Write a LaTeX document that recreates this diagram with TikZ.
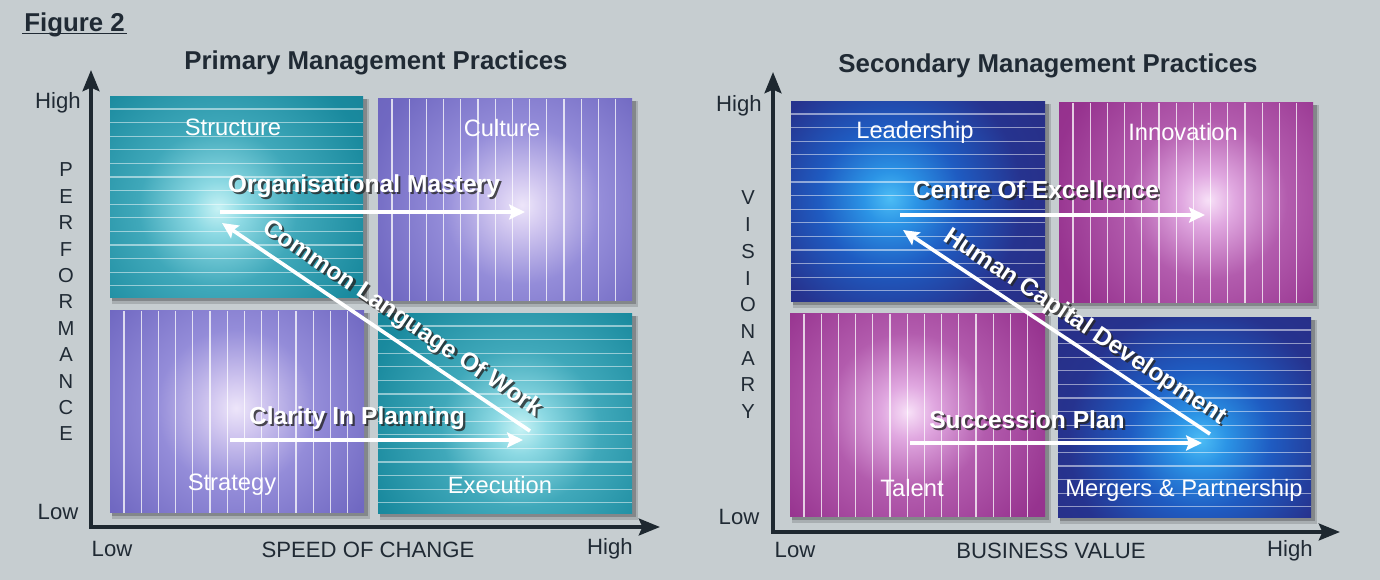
\documentclass[tikz,border=0pt]{standalone}
\usepackage{fontspec}
\setmainfont{Liberation Sans}
\usetikzlibrary{arrows.meta}

% palette
\definecolor{bggray}{RGB}{198,205,208}
\definecolor{axisdark}{RGB}{30,40,48}
\definecolor{titledark}{RGB}{32,42,52}
\definecolor{tealglow}{rgb}{0.06,0.44,0.52}
\definecolor{lilacglow}{rgb}{0.36,0.33,0.67}
\definecolor{navyglow}{rgb}{0.16,0.15,0.46}
\definecolor{plumglow}{rgb}{0.53,0.14,0.50}

% radial glows, one per quadrant family
\pgfdeclareradialshading{tealglow}{\pgfpoint{0bp}{0bp}}{%
  rgb(0bp)=(0.78,0.95,0.96); rgb(3bp)=(0.55,0.85,0.89); rgb(9bp)=(0.25,0.66,0.73);
  rgb(18bp)=(0.10,0.54,0.62); rgb(30bp)=(0.07,0.48,0.56); rgb(50bp)=(0.06,0.44,0.52)}
\pgfdeclareradialshading{lilacglow}{\pgfpoint{0bp}{0bp}}{%
  rgb(0bp)=(0.93,0.90,0.98); rgb(3bp)=(0.82,0.78,0.94); rgb(9bp)=(0.58,0.55,0.85);
  rgb(18bp)=(0.44,0.41,0.76); rgb(30bp)=(0.39,0.36,0.71); rgb(50bp)=(0.36,0.33,0.67)}
\pgfdeclareradialshading{navyglow}{\pgfpoint{0bp}{0bp}}{%
  rgb(0bp)=(0.30,0.74,0.96); rgb(3bp)=(0.17,0.58,0.90); rgb(8bp)=(0.12,0.36,0.76);
  rgb(15bp)=(0.15,0.20,0.56); rgb(28bp)=(0.16,0.16,0.49); rgb(50bp)=(0.16,0.15,0.46)}
\pgfdeclareradialshading{plumglow}{\pgfpoint{0bp}{0bp}}{%
  rgb(0bp)=(0.97,0.88,0.97); rgb(3bp)=(0.88,0.66,0.88); rgb(9bp)=(0.70,0.36,0.68);
  rgb(18bp)=(0.59,0.20,0.56); rgb(30bp)=(0.56,0.16,0.53); rgb(50bp)=(0.53,0.14,0.50)}

% quadrant panel: x1,y1,x2,y2, glow family, glow centre x, glow centre y
\newcommand\quadfill[7]{%
  \fill[black,opacity=0.15] ({#1+2},{#2+2}) rectangle ({#3+6},{#4+6});
  \fill[black,opacity=0.22] ({#1+2},{#2+2}) rectangle ({#3+3.5},{#4+3.5});
  \begin{scope}
    \clip (#1,#2) rectangle (#3,#4);
    \fill[#5] (#1,#2) rectangle (#3,#4);
    \shade[shading=#5] (#6,#7) circle (220);
  \end{scope}}
% ruled lines inside a panel
\newcommand\hstripes[4]{%
  \foreach \i in {0,...,13} \draw[hstripe] ({#1},{#2+12+\i*13.6}) -- ({#3},{#2+12+\i*13.6});}
\newcommand\vstripes[4]{%
  \foreach \i in {0,...,13} \draw[vstripe] ({#1+14+\i*17.2},{#2}) -- ({#1+14+\i*17.2},{#4});}
% white bold caption with a dark drop shadow: name, x,y, rotation, text
\newcommand\shadowtext[4]{%
  \node[ashadow,rotate=#3] (#1-sh) at ([xshift=1.2pt,yshift=-1.2pt]#2) {#4};
  \node[alabel,rotate=#3] (#1) at (#2) {#4};}

\tikzset{
  hstripe/.style={white,opacity=0.5,line width=0.6pt},
  vstripe/.style={white,opacity=0.75,line width=0.6pt},
  axisline/.style={axisdark,line width=2.3pt,line join=miter,
    {Stealth[length=12pt,width=9.5pt,inset=2pt]}-{Stealth[length=12pt,width=9.5pt,inset=2pt]}},
  flow/.style={white,line width=2.1pt,-{Stealth[length=9pt,width=8.5pt,inset=1.5pt]}},
  flowback/.style={white,line width=2.1pt,{Stealth[length=9pt,width=8.5pt,inset=1.5pt]}-},
  alabel/.style={font=\bfseries\fontsize{14}{16}\selectfont,text=white,inner sep=0pt},
  ashadow/.style={font=\bfseries\fontsize{14}{16}\selectfont,text=black!85,opacity=0.8,inner sep=0pt},
  qlabel/.style={font=\fontsize{13.5}{16}\selectfont,text=white,inner sep=0pt},
  axislabel/.style={font=\fontsize{12.6}{15}\selectfont,text=titledark,inner sep=0pt},
  letterlabel/.style={font=\fontsize{11.5}{14}\selectfont,text=titledark,inner sep=0pt},
  heading/.style={font=\bfseries\fontsize{14.7}{17}\selectfont,text=titledark,inner sep=0pt},
}

\begin{document}
\begin{tikzpicture}[x=0.02cm,y=-0.02cm]
\useasboundingbox (0,0) rectangle (1380,580);
\fill[bggray] (0,0) rectangle (1380,580);

% ---------- figure caption ----------
\node[heading,anchor=west] (figlabel) at (24,25) {Figure 2};
\draw[titledark,line width=1pt] (figlabel.south west) ++(-2,-4) -- ++(105,0);

% ========== primary practices ==========
\node[heading] (ptitle) at (376,63) {Primary Management Practices};

\quadfill{110}{97}{363}{298}{tealglow}{218}{208}
\hstripes{110}{97}{363}{298}
\quadfill{378}{99}{632}{301}{lilacglow}{522}{205}
\vstripes{378}{99}{632}{301}
\quadfill{110}{311}{364}{513}{lilacglow}{236}{408}
\vstripes{110}{311}{364}{513}
\quadfill{378}{314}{632}{514}{tealglow}{520}{428}
\hstripes{378}{314}{632}{514}

\node[qlabel] (structure) at (233,127) {Structure};
\node[qlabel] (culture) at (502,128) {Culture};
\node[qlabel] (strategy) at (232,485) {Strategy};
\node[qlabel] (execution) at (500,485) {Execution};

\coordinate (om-s) at (220,212);
\coordinate (om-e) at (525,212);
\coordinate (cp-s) at (230,440);
\coordinate (cp-e) at (523,440);
\coordinate (cl-head) at (222,223);
\coordinate (cl-tail) at (530,431);
\draw[flow] (om-s) -- (om-e);
\draw[flow] (cp-s) -- (cp-e);
\draw[flowback] (cl-head) -- (cl-tail);

\shadowtext{orgmastery}{364,186}{0}{Organisational Mastery}
\shadowtext{clarity}{357,418}{0}{Clarity In Planning}
\shadowtext{commonlang}{402,319}{-34.0}{Common Language Of Work}

% axes
\coordinate (l-ytip) at (91,70);
\coordinate (l-org) at (91,527);
\coordinate (l-xtip) at (660,527);
\draw[axisline] (l-ytip) -- (l-org) -- (l-xtip);

\node[axislabel] (l-high) at (58,103) {High};
\node[axislabel] (l-low) at (58,512) {Low};
\node[axislabel] (l-xlow) at (112,549) {Low};
\node[axislabel] (l-xname) at (368,550) {SPEED OF CHANGE};
\node[axislabel] (l-xhigh) at (610,549) {High};
\foreach \ch [count=\k from 0] in {P,E,R,F,O,R,M,A,N,C,E}
  \node[letterlabel] (perf-\k) at (66,{170+\k*26.4}) {\ch};

% ========== secondary practices ==========
\node[heading] (stitle) at (1048,66) {Secondary Management Practices};

\quadfill{791}{102}{1045}{302}{navyglow}{890}{198}
\hstripes{791}{102}{1045}{302}
\quadfill{1059}{103}{1313}{303}{plumglow}{1208}{200}
\vstripes{1059}{103}{1313}{303}
\quadfill{790}{314}{1045}{517}{plumglow}{908}{412}
\vstripes{790}{314}{1045}{517}
\quadfill{1058}{318}{1311}{518}{navyglow}{1200}{440}
\hstripes{1058}{318}{1311}{518}

\node[qlabel] (leadership) at (915,132) {Leadership};
\node[qlabel] (innovation) at (1183,132) {Innovation};
\node[qlabel] (talent) at (912,488) {Talent};
\node[qlabel] (mergers) at (1184,490) {Mergers \& Partnership};

\coordinate (ce-s) at (900,215);
\coordinate (ce-e) at (1205,215);
\coordinate (sp-s) at (910,443);
\coordinate (sp-e) at (1202,443);
\coordinate (hc-head) at (903,230);
\coordinate (hc-tail) at (1210,434);
\draw[flow] (ce-s) -- (ce-e);
\draw[flow] (sp-s) -- (sp-e);
\draw[flowback] (hc-head) -- (hc-tail);

\shadowtext{excellence}{1036,190}{0}{Centre Of Excellence}
\shadowtext{succession}{1027,420}{0}{Succession Plan}
\shadowtext{humancap}{1085,327}{-33.6}{Human Capital Development}

% axes
\coordinate (r-ytip) at (773,72);
\coordinate (r-org) at (773,532);
\coordinate (r-xtip) at (1340,532);
\draw[axisline] (r-ytip) -- (r-org) -- (r-xtip);

\node[axislabel] (r-high) at (739,106) {High};
\node[axislabel] (r-low) at (739,517) {Low};
\node[axislabel] (r-xlow) at (795,550) {Low};
\node[axislabel] (r-xname) at (1051,551) {BUSINESS VALUE};
\node[axislabel] (r-xhigh) at (1290,551) {High};
\foreach \ch [count=\k from 0] in {V,I,S,I,O,N,A,R,Y}
  \node[letterlabel] (vis-\k) at (748,{198+\k*26.7}) {\ch};
\end{tikzpicture}
\end{document}
